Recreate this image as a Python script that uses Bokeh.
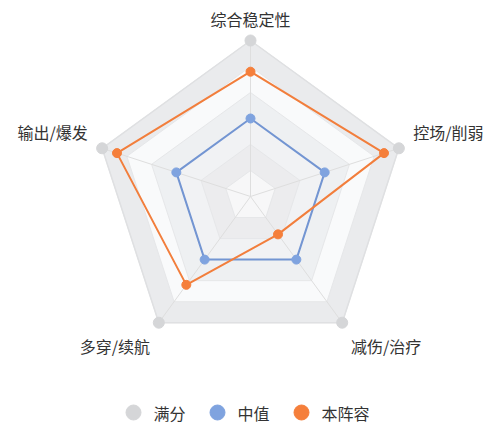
import numpy as np
from bokeh.plotting import figure
from bokeh.models import Range1d
from bokeh.core.properties import value
from bokeh.embed import file_html
from bokeh.resources import INLINE

# ---- data ----
indicators = ["综合稳定性", "控场/削弱", "减伤/治疗", "多穿/续航", "输出/爆发"]
max_values = [10, 10, 10, 10, 10]
full_values = [10, 10, 10, 10, 10]
median_values = [5, 5, 5, 5, 5]
team_values = [8, 9, 3, 7, 9]
series_names = ["满分", "中值", "本阵容"]
marker_colors = ["#d5d6d8", "#7fa3df", "#f57f3b"]
line_colors = ["#dfe0e2", "#7395d2", "#f27e3c"]
split_number = 6
band_colors = ["#f7f7f8", "#ececee", "#f1f2f4", "#eef0f2", "#f9fafb", "#eaebed"]

# ---- layout ----
W, H = 490, 428
CX, CY, R = 250, 196, 156
NAME_GAP = 15
FONT = value("Noto Sans CJK SC")

p = figure(width=W, height=H, x_range=Range1d(0, W), y_range=Range1d(H, 0),
           output_backend="svg", toolbar_location=None, min_border=0,
           x_axis_location=None, y_axis_location=None)
p.grid.visible = False
p.outline_line_color = None
p.background_fill_color = "white"
p.border_fill_color = "white"

n = len(indicators)
theta = -np.pi / 2 + 2 * np.pi * np.arange(n) / n
cos_t, sin_t = np.cos(theta), np.sin(theta)


def poly(fracs):
    fr = np.asarray(fracs, dtype=float)
    xs = CX + R * fr * cos_t
    ys = CY + R * fr * sin_t
    return list(xs), list(ys)


def closed(xs, ys):
    return xs + xs[:1], ys + ys[:1]


# split areas (outer first)
for k in range(split_number, 0, -1):
    xs, ys = poly([k / split_number] * n)
    p.patch(xs, ys, fill_color=band_colors[k - 1], line_color=None)

# split lines
ring_x, ring_y = [], []
for k in range(1, split_number + 1):
    xs, ys = closed(*poly([k / split_number] * n))
    ring_x.append(xs)
    ring_y.append(ys)
p.multi_line(ring_x, ring_y, line_color="#e6e7e9", line_width=1)

# spokes
vx, vy = poly([1.0] * n)
p.multi_line([[CX, x] for x in vx], [[CY, y] for y in vy], line_color="#dedede", line_width=1)

# series
series_values = [full_values, median_values, team_values]
widths = [1.5, 2, 2]
sizes = [11, 9, 9]
for vals, lc, mc, lw, sz in zip(series_values, line_colors, marker_colors, widths, sizes):
    fr = np.array(vals, dtype=float) / np.array(max_values, dtype=float)
    xs, ys = poly(fr)
    cx_, cy_ = closed(xs, ys)
    p.line(cx_, cy_, line_color=lc, line_width=lw)
    p.scatter(xs, ys, size=sz, fill_color=mc, line_color=mc)

# indicator names
for name, c, s in zip(indicators, cos_t, sin_t):
    ax = CX + (R + NAME_GAP) * c
    ay = CY + (R + NAME_GAP) * s
    if abs(c) < 0.01:
        align = "center"
        dy = -7 if s < 0 else 7
    else:
        align = "left" if c > 0 else "right"
        dy = -12 if s < 0 else 11
    p.text([ax], [ay + dy], text=[name], text_font=FONT, text_font_size="16px",
           text_color="#333333", text_align=align, text_baseline="middle")

# legend
LEG_X0, LEG_Y = 133, 412
lx = LEG_X0
for name, mc in zip(series_names, marker_colors):
    p.scatter([lx], [LEG_Y], size=15, fill_color=mc, line_color=mc)
    p.text([lx + 20], [LEG_Y], text=[name], text_font=FONT, text_font_size="16px",
           text_color="#333333", text_align="left", text_baseline="middle")
    lx += 20 + 16 * len(name) + 32

open("out.html", "w").write(file_html(p, INLINE))
